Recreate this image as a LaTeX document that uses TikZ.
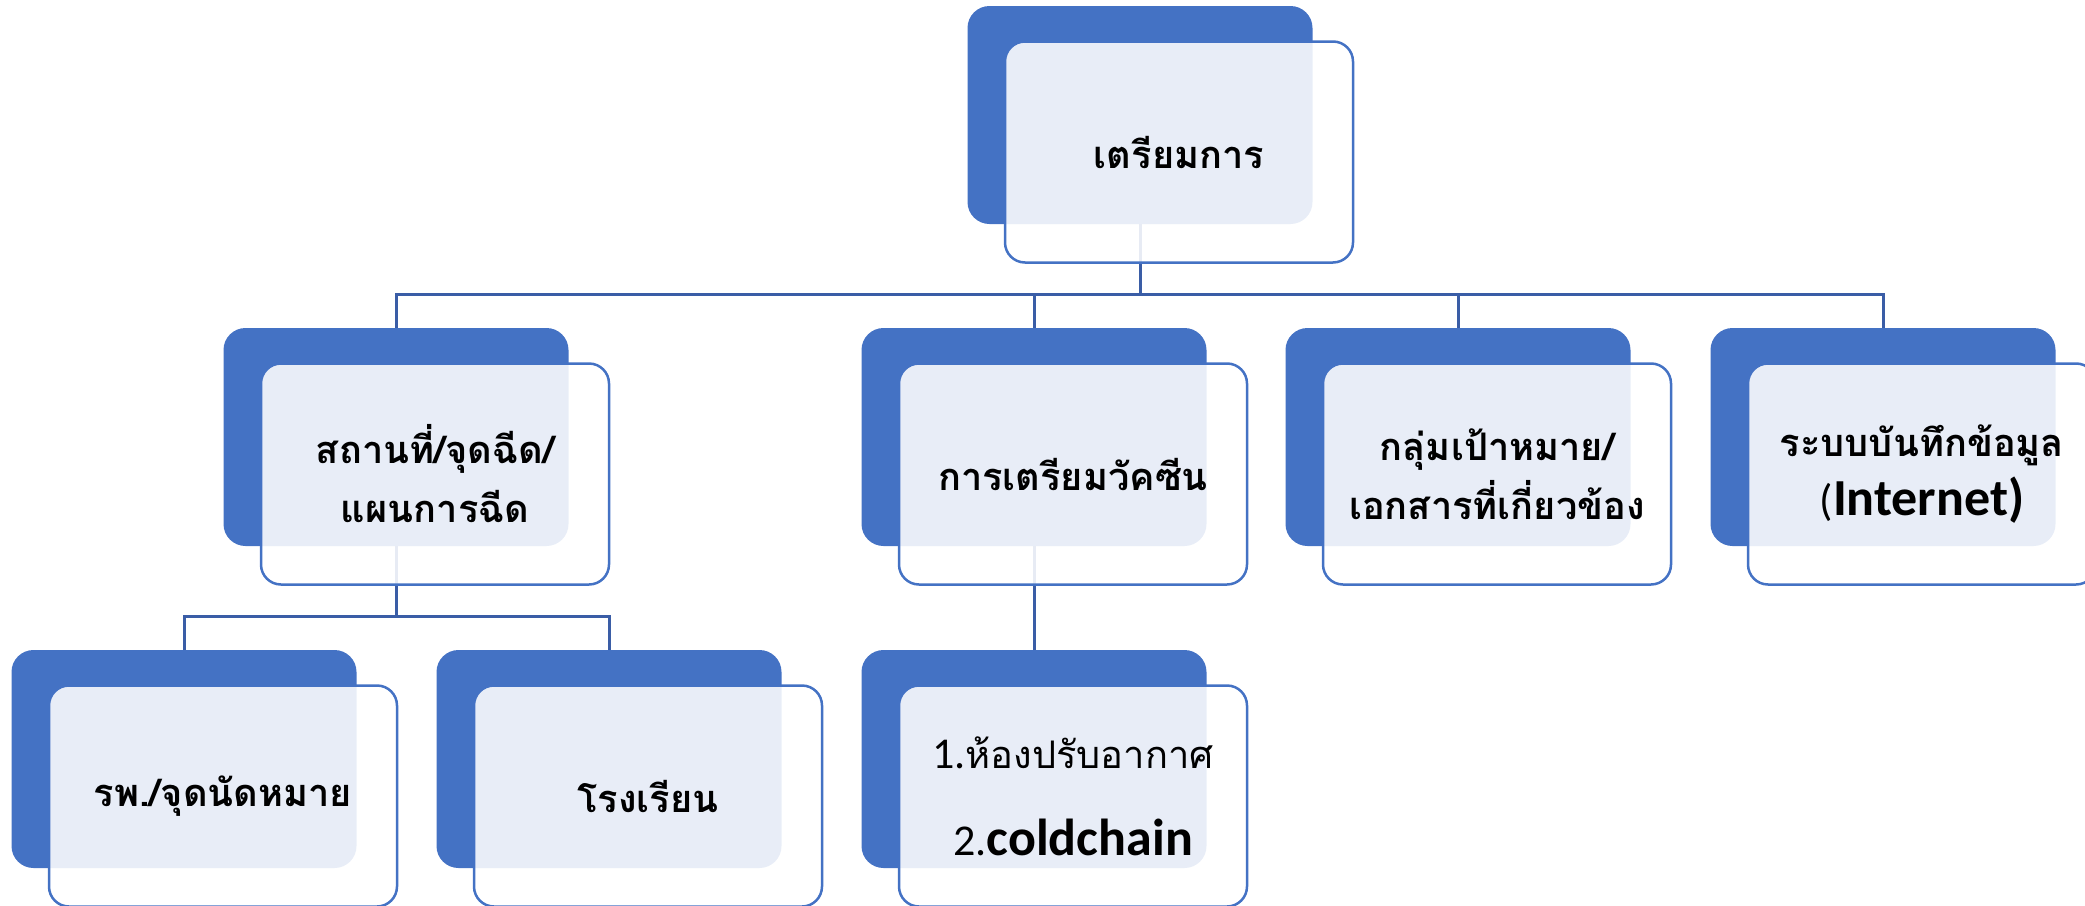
\documentclass[tikz,border=0pt]{standalone}
\usepackage{fontspec}
\setmainfont{Carlito}
\newfontfamily\thaifont[Script=Thai]{Loma}
\newfontfamily\latfont{Carlito}
\usetikzlibrary{calc,backgrounds}
\definecolor{boxblue}{RGB}{68,114,196}
\definecolor{linkblue}{RGB}{58,93,166}
\newcommand\latbig{\latfont\bfseries\fontsize{52}{59}\selectfont}
\newcommand\latnum{\latfont\mdseries\fontsize{44}{59}\selectfont}
\tikzstyle{bb} = [rectangle,rounded corners=22pt,fill=boxblue,minimum width=345pt,minimum height=218pt]
\tikzstyle{fb} = [rectangle,rounded corners=20pt,draw=boxblue,line width=2.5pt,fill=white,fill opacity=0.88,text opacity=1,minimum width=348pt,minimum height=221pt,align=center,font=\thaifont\bfseries\fontsize{38}{59}\selectfont]
\tikzstyle{link} = [draw=linkblue,line width=3pt]

\begin{document}
\begin{tikzpicture}[x=1pt,y=-1pt]
  \useasboundingbox (0,0) rectangle (2085,905);
  % top
  \node[bb](prep) at (1140,115) {};
  \node[fb](prepf) at ($(prep)+(39,37)$) {เตรียมการ};
  % second row
  \node[bb](site) at (396,437) {};
  \node[fb](sitef) at ($(site)+(39,37)$) {สถานที่/จุดฉีด/\\แผนการฉีด};
  \node[bb](vacc) at (1034,437) {};
  \node[fb](vaccf) at ($(vacc)+(39,37)$) {การเตรียมวัคซีน};
  \node[bb](target) at (1458,437) {};
  \node[fb](targetf) at ($(target)+(39,37)$) {กลุ่มเป้าหมาย/\\เอกสารที่เกี่ยวข้อง};
  \node[bb](record) at (1883,437) {};
  \node[fb](recordf) at ($(record)+(39,37)$) {ระบบบันทึกข้อมูล\\{\latnum (}{\latbig Internet)}};
  % third row
  \node[bb](hosp) at (184,759) {};
  \node[fb](hospf) at ($(hosp)+(39,37)$) {รพ./จุดนัดหมาย};
  \node[bb](school) at (609,759) {};
  \node[fb](schoolf) at ($(school)+(39,37)$) {โรงเรียน};
  \node[bb](cold) at (1034,759) {};
  \node[fb,font=\thaifont\fontsize{38}{87}\selectfont](coldf) at ($(cold)+(39,37)$) {{\latnum 1.}ห้องปรับอากาศ\\{\latnum 2.}{\latbig coldchain}};
  % links
  \begin{scope}[on background layer]
    \coordinate (bus) at (0,294);
    \coordinate (bus2) at (0,616);
    \draw[link] (prep.south) -- (prep.south |- bus) -| (site.north);
    \draw[link] (prep.south |- bus) -| (vacc.north);
    \draw[link] (prep.south |- bus) -| (target.north);
    \draw[link] (prep.south |- bus) -| (record.north);
    \draw[link] (site.south) -- (site.south |- bus2) -| (hosp.north);
    \draw[link] (site.south |- bus2) -| (school.north);
    \draw[link] (vacc.south) -- (cold.north);
  \end{scope}
\end{tikzpicture}
\end{document}
